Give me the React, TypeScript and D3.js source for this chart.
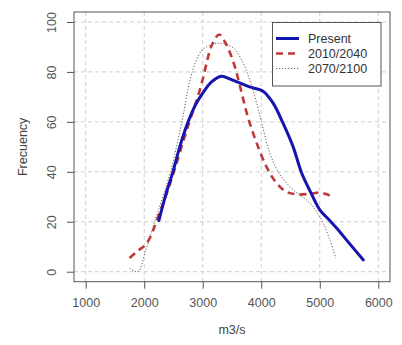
import { useEffect, useRef } from 'react'
import * as d3 from 'd3'

// flow (m3/s) vs frequency
const present: [number, number][] = [
  [2250, 20.5], [2370, 31], [2490, 40], [2620, 51], [2750, 60], [2880, 67],
  [3000, 71.5], [3150, 76], [3320, 78.3], [3480, 77], [3640, 75.5], [3800, 74],
  [4030, 72.3], [4200, 67.6], [4370, 59.6], [4545, 50], [4690, 39.5], [4830, 32.5],
  [5000, 24.8], [5150, 21], [5290, 17.4], [5500, 11.5], [5745, 4.7]
]

const p2010: [number, number][] = [
  [1750, 5.5], [1900, 8.5], [2030, 11], [2120, 14.7], [2205, 20], [2380, 31],
  [2520, 41], [2690, 54], [2800, 62], [2900, 69], [3000, 77], [3080, 85],
  [3160, 91], [3280, 95], [3380, 92], [3460, 88], [3550, 82], [3640, 74],
  [3770, 62], [3920, 51.6], [4090, 42], [4260, 35.5], [4430, 32], [4600, 31],
  [4830, 31.2], [5000, 31.7], [5120, 31], [5250, 29.5]
]

const p2070: [number, number][] = [
  [1750, 1.4], [1890, 0], [2030, 9], [2205, 22], [2330, 31], [2462, 41],
  [2560, 51], [2660, 62], [2776, 76], [2880, 84], [3003, 89], [3260, 91.5],
  [3517, 89.7], [3688, 83.7], [3800, 77], [3889, 70.3], [4003, 60], [4146, 47.5],
  [4317, 39], [4545, 32.8], [4831, 27.5], [5030, 20.8], [5173, 12.7], [5276, 5.4]
]

const xTicks = [1000, 2000, 3000, 4000, 5000, 6000]
const yTicks = [0, 20, 40, 60, 80, 100]
const seriesNames = ['Present', '2010/2040', '2070/2100']

export default function App() {
  const svgRef = useRef<SVGSVGElement>(null)

  useEffect(() => {
    const width = 402
    const height = 345
    const svg = d3.select(svgRef.current)
    svg.selectAll('*').remove()

    // plot region (R style box with 4% padding)
    const left = 74, right = 390, top = 12, bottom = 281.7
    const x = d3.scaleLinear().domain([800, 6200]).range([left, right])
    const y = d3.scaleLinear().domain([-4, 104]).range([bottom, top])

    svg.append('rect').attr('width', width).attr('height', height).attr('fill', '#fff')

    const font = 'Liberation Sans, Arial, sans-serif'
    const axisCol = '#555'

    // grid
    const grid = svg.append('g')
    grid.selectAll('.gx').data(xTicks).enter().append('line')
      .attr('x1', d => x(d)).attr('x2', d => x(d))
      .attr('y1', top).attr('y2', bottom)
      .attr('stroke', '#cfcfcf').attr('stroke-dasharray', '4,3')
    grid.selectAll('.gy').data(yTicks).enter().append('line')
      .attr('y1', d => y(d)).attr('y2', d => y(d))
      .attr('x1', left).attr('x2', right)
      .attr('stroke', '#cfcfcf').attr('stroke-dasharray', '4,3')

    // curves
    const line = d3.line<[number, number]>()
      .x(d => x(d[0])).y(d => y(d[1]))
      .curve(d3.curveCatmullRom.alpha(0.5))

    svg.append('path').datum(p2070).attr('d', line)
      .attr('fill', 'none').attr('stroke', '#6a5a5a').attr('stroke-width', 1)
      .attr('stroke-dasharray', '1.2,1.8')
    svg.append('path').datum(p2010).attr('d', line)
      .attr('fill', 'none').attr('stroke', '#c03838').attr('stroke-width', 2.6)
      .attr('stroke-dasharray', '7,5')
    svg.append('path').datum(present).attr('d', line)
      .attr('fill', 'none').attr('stroke', '#1414b0').attr('stroke-width', 3)
      .attr('stroke-linecap', 'round')

    // axes
    const xAxis = svg.append('g')
      .attr('transform', `translate(0,${bottom})`)
      .call(d3.axisBottom(x).tickValues(xTicks).tickSize(7).tickPadding(9).tickFormat(d3.format('d')))
    const yAxis = svg.append('g')
      .attr('transform', `translate(${left},0)`)
      .call(d3.axisLeft(y).tickValues(yTicks).tickSize(7).tickPadding(0).tickFormat(d3.format('d')))
    for (const ax of [xAxis, yAxis]) {
      ax.select('.domain').remove()
      ax.selectAll('line').attr('stroke', axisCol)
      ax.selectAll('text').attr('fill', axisCol).style('font-size', '12.5px').style('font-family', font)
    }
    // R style: y labels parallel to the axis
    yAxis.selectAll('text')
      .attr('x', null).attr('dy', null).attr('y', 0)
      .attr('transform', 'translate(-22,0) rotate(-90)')
      .attr('text-anchor', 'middle').attr('dominant-baseline', 'central')

    svg.append('rect')
      .attr('x', left).attr('y', top).attr('width', right - left).attr('height', bottom - top)
      .attr('fill', 'none').attr('stroke', axisCol).attr('stroke-width', 1)

    // axis titles
    svg.append('text').attr('x', (left + right) / 2).attr('y', 334)
      .attr('text-anchor', 'middle').attr('fill', '#444')
      .style('font-size', '12.5px').style('font-family', font).text('m3/s')
    svg.append('text')
      .attr('transform', `translate(27,${(top + bottom) / 2}) rotate(-90)`)
      .attr('text-anchor', 'middle').attr('fill', '#444')
      .style('font-size', '12.5px').style('font-family', font).text('Frecuency')

    // legend
    const lg = svg.append('g')
    lg.append('rect').attr('x', 272.5).attr('y', 22.5).attr('width', 108.5).attr('height', 63.5)
      .attr('fill', '#fff').attr('stroke', axisCol)
    const styles = [
      { c: '#1414b0', w: 3, dash: null },
      { c: '#c03838', w: 2.6, dash: '7,5' },
      { c: '#6a5a5a', w: 1, dash: '1.2,1.8' }
    ]
    seriesNames.forEach((name, i) => {
      const yy = 38.5 + i * 15
      lg.append('line').attr('x1', 276).attr('x2', 299).attr('y1', yy).attr('y2', yy)
        .attr('stroke', styles[i].c).attr('stroke-width', styles[i].w)
        .attr('stroke-dasharray', styles[i].dash)
      lg.append('text').attr('x', 308).attr('y', yy).attr('dominant-baseline', 'central')
        .attr('fill', '#333').style('font-size', '12.5px').style('font-family', font).text(name)
    })
  }, [])

  return (
    <svg ref={svgRef} width={402} height={345}
      style={{ position: 'absolute', left: 0, top: 0, display: 'block' }} />
  )
}
